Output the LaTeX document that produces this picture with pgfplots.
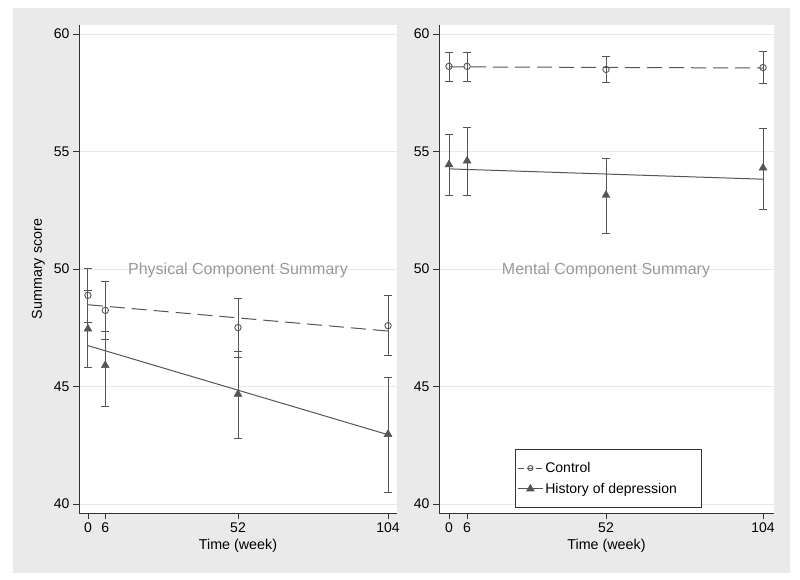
\documentclass[border=0pt]{standalone}
\usepackage{fontspec}
\setmainfont{Liberation Sans}
\usepackage{pgfplots}
\usepackage{pgfplotstable}
\pgfplotsset{compat=1.18}
\definecolor{bggray}{HTML}{EAEAEA}
\definecolor{gridgray}{HTML}{E8E8E8}
\definecolor{dk}{HTML}{555555}
\definecolor{axc}{HTML}{333333}
\definecolor{ttl}{HTML}{999999}

\pgfplotstableread{
x y ep em
0 48.88 1.12 1.16
6 48.24 1.24 1.24
52 47.51 1.24 1.27
104 47.59 1.29 1.29
}\leftctrl
\pgfplotstableread{
x y ep em
0 47.45 1.63 1.63
6 45.90 1.46 1.74
52 44.68 1.80 1.90
104 42.97 2.42 2.46
}\leftdep
\pgfplotstableread{
x y ep em
0 58.62 0.59 0.65
6 58.62 0.61 0.65
52 58.49 0.53 0.56
104 58.57 0.67 0.70
}\rightctrl
\pgfplotstableread{
x y ep em
0 54.44 1.30 1.33
6 54.60 1.40 1.48
52 53.14 1.58 1.65
104 54.30 1.69 1.75
}\rightdep

\pgfplotsset{
  panel/.style={
    scale only axis,
    height=488pt,
    ymin=39.62, ymax=60.38,
    ytick={40,45,50,55,60},
    xtick={0,6,52,104},
    axis x line*=bottom, axis y line*=left,
    axis line style={axc, line width=0.8pt, -},
    tick style={axc, line width=0.8pt},
    tick align=outside,
    major tick length=6pt,
    ymajorgrids, grid style={gridgray, line width=0.8pt},
    axis background/.style={fill=white},
    tick label style={font=\fontsize{14}{16}\selectfont, text=black},
    /pgf/number format/assume math mode=true,
    xlabel={Time (week)},
    label style={font=\fontsize{14.3}{16}\selectfont},
    clip=false,
    legend image code/.code={\draw[mark repeat=2,mark phase=2,#1] plot coordinates {(0pt,0pt) (12.5pt,0pt) (25pt,0pt)};},
  },
  errs/.style={
    /pgfplots/error bars/y dir=both, /pgfplots/error bars/y explicit,
    /pgfplots/error bars/error bar style={dk, line width=1pt, solid},
    /pgfplots/error bars/error mark options={rotate=90, mark size=4pt, line width=1pt, dk}},
  ctrlmk/.style={only marks, mark=o, mark size=3.2pt, mark options={dk, line width=0.9pt, fill=none, solid}, errs},
  depmk/.style={only marks, mark=triangle*, mark size=4.6pt, mark options={dk, fill=dk, solid}, errs},
  ctrlln/.style={dk, line width=1pt, no marks, dash pattern=on 15pt off 7pt},
  depln/.style={dk, line width=1pt, no marks, solid},
}

\begin{document}
\begin{tikzpicture}[x=1pt,y=1pt]
\path (0,0) rectangle (800,579);
\fill[bggray] (13,6) rectangle (790,571);

\begin{axis}[panel, at={(79pt,66pt)}, anchor=south west,
  width=318pt, xmin=-3.1, xmax=107.1,
  ylabel={Summary score},
  ylabel style={at={(axis description cs:-0.128,0.5)}, anchor=center}]
\addplot[ctrlln] coordinates {(0,48.48) (104,47.36)};
\addplot[depln] coordinates {(0,46.74) (104,42.95)};
\addplot[forget plot, ctrlmk] table[x=x,y=y,y error plus=ep,y error minus=em] {\leftctrl};
\addplot[forget plot, depmk] table[x=x,y=y,y error plus=ep,y error minus=em] {\leftdep};
\node[anchor=base, text=ttl, font=\fontsize{16}{18}\selectfont] at (axis cs:52,49.77) {Physical Component Summary};
\end{axis}

\begin{axis}[panel, at={(439pt,66pt)}, anchor=south west,
  width=335pt, xmin=-3.31, xmax=107.64,
  legend style={at={(0.227,0.0102)}, anchor=south west, draw=axc, line width=0.8pt,
    font=\fontsize{14}{16}\selectfont, inner xsep=2pt, inner ysep=11pt, row sep=5pt},
  legend cell align=left]
\addplot[forget plot, ctrlln] coordinates {(0,58.60) (104,58.55)};
\addplot[forget plot, depln] coordinates {(0,54.26) (104,53.82)};
\addplot[forget plot, ctrlmk] table[x=x,y=y,y error plus=ep,y error minus=em] {\rightctrl};
\addplot[forget plot, depmk] table[x=x,y=y,y error plus=ep,y error minus=em] {\rightdep};
\addlegendimage{dk, line width=0.9pt, dash pattern=on 6pt off 3pt, mark=o, mark size=2.6pt, mark options={solid, dk}}
\addlegendentry{Control}
\addlegendimage{dk, line width=0.9pt, solid, mark=triangle*, mark size=4pt, mark options={dk, fill=dk}}
\addlegendentry{\makebox[152pt][l]{History of depression}}
\node[anchor=base, text=ttl, font=\fontsize{16}{18}\selectfont] at (axis cs:52,49.77) {Mental Component Summary};
\end{axis}
\end{tikzpicture}
\end{document}
